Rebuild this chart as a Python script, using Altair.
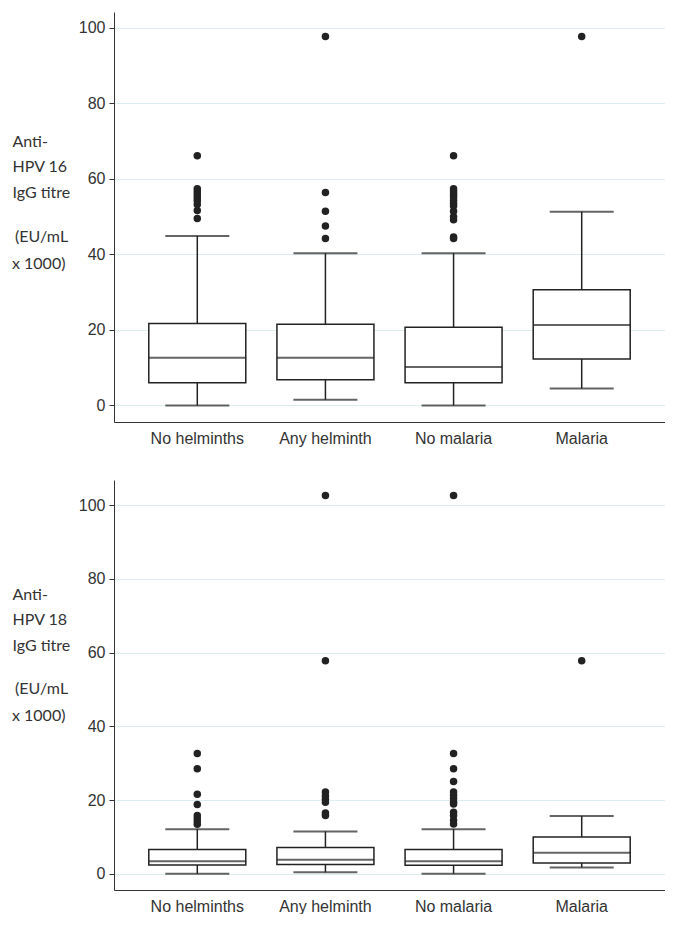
import altair as alt
import pandas as pd

groups = ["No helminths", "Any helminth", "No malaria", "Malaria"]

# HPV 16 summary
hpv16_low = [0.0, 1.5, 0.0, 4.5]
hpv16_q1 = [6.0, 6.8, 6.0, 12.3]
hpv16_med = [12.6, 12.6, 10.2, 21.3]
hpv16_q3 = [21.7, 21.5, 20.7, 30.6]
hpv16_high = [44.9, 40.3, 40.3, 51.3]
hpv16_out = [
    [66.1, 57.4, 56.6, 55.8, 55.0, 54.2, 53.2, 51.6, 49.5],
    [97.7, 56.4, 51.4, 47.5, 44.2],
    [66.1, 57.4, 56.8, 56.2, 55.6, 55.0, 54.3, 53.5, 52.8, 51.4, 50.0, 49.2, 44.6, 44.2],
    [97.7],
]

# HPV 18 summary
hpv18_low = [0.0, 0.4, 0.0, 1.7]
hpv18_q1 = [2.4, 2.5, 2.3, 2.9]
hpv18_med = [3.4, 3.8, 3.4, 5.7]
hpv18_q3 = [6.6, 7.1, 6.6, 10.0]
hpv18_high = [12.1, 11.5, 12.1, 15.7]
hpv18_out = [
    [32.6, 28.5, 21.6, 18.8, 15.8, 15.0, 14.2, 13.4],
    [102.6, 57.8, 22.2, 21.1, 20.2, 19.4, 16.5, 15.8],
    [102.6, 32.6, 28.5, 25.0, 22.2, 21.3, 20.5, 19.5, 18.9, 16.7, 15.8, 14.5, 13.5],
    [57.8],
]

title16 = ["Anti-", "HPV 16", "IgG titre"]
title18 = ["Anti-", "HPV 18", "IgG titre"]
unit_lines = ["(EU/mL", "x 1000)"]

INK = "#222222"
GRID = "#dcedf0"
TXT = "#333333"
W = 551
H = 410
BOX = 97
CAP = 64


def panel(low, q1, med, q3, high, outs, title, domain, title_y, unit_y):
    box = pd.DataFrame({"g": groups, "low": low, "q1": q1, "med": med, "q3": q3, "high": high})
    pts = pd.DataFrame(
        [{"g": g, "v": v} for g, vals in zip(groups, outs) for v in vals]
    )
    xenc = alt.X(
        "g:N",
        sort=groups,
        scale=alt.Scale(paddingInner=0, paddingOuter=0.15),
        axis=alt.Axis(
            title=None, labelAngle=0, ticks=False, grid=False,
            labelFont="Liberation Sans", labelFontSize=16, labelColor=TXT,
            labelPadding=8, domainColor=TXT,
        ),
    )
    yscale = alt.Scale(domain=domain, nice=False, zero=False)
    yaxis = alt.Axis(
        values=[0, 20, 40, 60, 80, 100],
        title=title,
        titleAngle=0,
        titleAlign="left",
        titleBaseline="middle",
        titleX=-102,
        titleY=title_y,
        titleFont="Lato",
        titleFontSize=16,
        titleFontWeight="normal",
        titleColor=TXT,
        titleLineHeight=25.5,
        labelFont="Liberation Sans",
        labelFontSize=16,
        labelColor=TXT,
        labelPadding=4,
        tickSize=5,
        tickColor=TXT,
        domainColor=TXT,
        grid=True,
        gridColor=GRID,
        gridWidth=1,
    )
    base = alt.Chart(box).encode(x=xenc)
    lower = base.mark_rule(color=INK, strokeWidth=1.5).encode(
        y=alt.Y("low:Q", scale=yscale, axis=yaxis), y2="q1:Q"
    )
    upper = base.mark_rule(color=INK, strokeWidth=1.5).encode(y="q3:Q", y2="high:Q")
    rect = base.mark_bar(size=BOX, fill="white", stroke=INK, strokeWidth=1.5).encode(
        y="q1:Q", y2="q3:Q"
    )
    median = base.mark_tick(size=BOX, thickness=2, color=INK, orient="horizontal").encode(y="med:Q")
    capl = base.mark_tick(size=CAP, thickness=2, color=INK, orient="horizontal").encode(y="low:Q")
    caph = base.mark_tick(size=CAP, thickness=2, color=INK, orient="horizontal").encode(y="high:Q")
    dots = alt.Chart(pts).mark_circle(size=56, color=INK, opacity=1).encode(
        x=alt.X("g:N", sort=groups), y="v:Q"
    )
    unit_layers = []
    for i, line in enumerate(unit_lines):
        unit_layers.append(
            alt.Chart(box.head(1)).mark_text(
                text=line, align="left", baseline="middle", font="Lato", fontSize=16,
                color=TXT, clip=False,
            ).encode(x=alt.value(-99 if i == 0 else -102), y=alt.value(unit_y + 27 * i))
        )
    return alt.layer(lower, upper, rect, median, capl, caph, dots, *unit_layers).properties(
        width=W, height=H
    )


top = panel(hpv16_low, hpv16_q1, hpv16_med, hpv16_q3, hpv16_high, hpv16_out,
            title16, [-4.4, 104.2], 129, 225)
bottom = panel(hpv18_low, hpv18_q1, hpv18_med, hpv18_q3, hpv18_high, hpv18_out,
               title18, [-4.4, 106.8], 114, 209)

chart = alt.vconcat(top, bottom, spacing=34).properties(
    padding={"left": 4, "top": 4, "right": 0, "bottom": 0}
).configure_view(stroke=None).configure_axis(domainWidth=1)

chart.save("out.html", embed_options={"renderer": "svg", "actions": False})
